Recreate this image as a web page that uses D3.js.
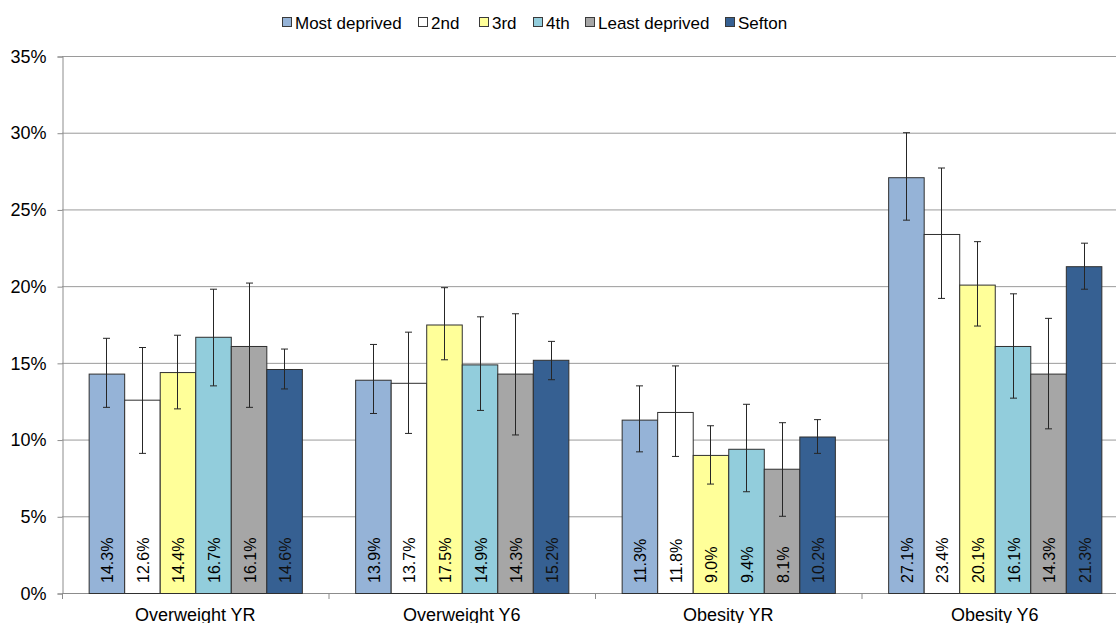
<!DOCTYPE html>
<html>
<head>
<meta charset="utf-8">
<script src="https://cdn.jsdelivr.net/npm/d3@7"></script>
<style>
  body { margin: 0; background: #fff; }
  svg { display: block; font-family: "Liberation Sans", Arial, sans-serif; }
</style>
</head>
<body>
<div id="chart"></div>
<script>
// --- Data ---
const categories = ["Overweight YR", "Overweight Y6", "Obesity YR", "Obesity Y6"];
const seriesNames = ["Most deprived", "2nd", "3rd", "4th", "Least deprived", "Sefton"];
const seriesColors = ["#95B3D7", "#FFFFFF", "#FFFF99", "#92CDDC", "#A6A6A6", "#366092"];

// values (%) per series, one entry per category
const mostDeprived = [14.3, 13.9, 11.3, 27.1];
const second = [12.6, 13.7, 11.8, 23.4];
const third = [14.4, 17.5, 9.0, 20.1];
const fourth = [16.7, 14.9, 9.4, 16.1];
const leastDeprived = [16.1, 14.3, 8.1, 14.3];
const sefton = [14.6, 15.2, 10.2, 21.3];

// confidence intervals (%) per series
const lowerCI = [
  [12.1, 11.7, 9.2, 24.3],
  [9.1, 10.4, 8.9, 19.2],
  [12.0, 15.2, 7.1, 17.4],
  [13.5, 11.9, 6.6, 12.7],
  [12.1, 10.3, 5.0, 10.7],
  [13.3, 13.9, 9.1, 19.8]
];
const upperCI = [
  [16.6, 16.2, 13.5, 30.0],
  [16.0, 17.0, 14.8, 27.7],
  [16.8, 19.9, 10.9, 22.9],
  [19.8, 18.0, 12.3, 19.5],
  [20.2, 18.2, 11.1, 17.9],
  [15.9, 16.4, 11.3, 22.8]
];

const yTicks = [0, 5, 10, 15, 20, 25, 30, 35];

const allValues = [mostDeprived, second, third, fourth, leastDeprived, sefton];

// --- Layout ---
const width = 1116;
const height = 623;
const plot = { left: 62, top: 56, bottom: 593, catWidth: 266.5 };

const svg = d3.select("#chart")
  .append("svg")
  .attr("width", width)
  .attr("height", height);

const x0 = d3.scaleBand()
  .domain(categories)
  .range([plot.left, plot.left + plot.catWidth * categories.length])
  .paddingInner(0)
  .paddingOuter(0);

// Excel style gap width 150%: 6 bars + 1.5 bar of gap per category
const barW = plot.catWidth / 7.5;
const x1 = d3.scaleBand()
  .domain(seriesNames)
  .range([0, barW * seriesNames.length]);
const groupOffset = (plot.catWidth - barW * seriesNames.length) / 2;

const y = d3.scaleLinear().domain([0, 35]).range([plot.bottom, plot.top]);

// gridlines
svg.append("g")
  .selectAll("line")
  .data(yTicks.filter((t) => t > 0))
  .join("line")
  .attr("x1", plot.left)
  .attr("x2", width)
  .attr("y1", (d) => y(d) + 0.5)
  .attr("y2", (d) => y(d) + 0.5)
  .attr("stroke", "#9A9A9A")
  .attr("stroke-width", 1);

// y axis
const yAxis = d3.axisLeft(y)
  .tickValues(yTicks)
  .tickFormat((d) => d + "%")
  .tickSize(5)
  .tickPadding(11);

const yG = svg.append("g")
  .attr("transform", `translate(${plot.left + 0.5},0.5)`)
  .call(yAxis);
yG.select(".domain").attr("stroke", "#8C8C8C");
yG.selectAll(".tick line").attr("stroke", "#8C8C8C");
yG.selectAll(".tick text")
  .attr("font-size", "18px")
  .attr("fill", "#000")
  .attr("font-family", "Liberation Sans, Arial, sans-serif");

// x axis
svg.append("line")
  .attr("x1", plot.left)
  .attr("x2", width)
  .attr("y1", plot.bottom + 0.5)
  .attr("y2", plot.bottom + 0.5)
  .attr("stroke", "#8C8C8C");

svg.append("g")
  .selectAll("line")
  .data(categories)
  .join("line")
  .attr("x1", (d) => x0(d) + 0.5)
  .attr("x2", (d) => x0(d) + 0.5)
  .attr("y1", plot.bottom)
  .attr("y2", plot.bottom + 6)
  .attr("stroke", "#8C8C8C");

svg.append("g")
  .selectAll("text")
  .data(categories)
  .join("text")
  .attr("x", (d) => x0(d) + plot.catWidth / 2)
  .attr("y", 621)
  .attr("text-anchor", "middle")
  .attr("font-size", "18px")
  .attr("fill", "#000")
  .text((d) => d);

// flatten bars
const bars = [];
seriesNames.forEach((s, si) => {
  categories.forEach((c, ci) => {
    bars.push({
      series: s,
      si: si,
      category: c,
      value: allValues[si][ci],
      lo: lowerCI[si][ci],
      hi: upperCI[si][ci]
    });
  });
});

const barX = (d) => x0(d.category) + groupOffset + x1(d.series);

// bars
svg.append("g")
  .selectAll("rect")
  .data(bars)
  .join("rect")
  .attr("x", (d) => barX(d) + 0.5)
  .attr("y", (d) => y(d.value) + 0.5)
  .attr("width", x1.bandwidth())
  .attr("height", (d) => y(0) - y(d.value))
  .attr("fill", (d) => seriesColors[d.si])
  .attr("stroke", "#2F2F2F")
  .attr("stroke-width", 1);

// error bars
const cap = 3.5;
const eb = svg.append("g").attr("stroke", "#262626").attr("stroke-width", 1);
bars.forEach((d) => {
  const cx = Math.round(barX(d) + x1.bandwidth() / 2) + 0.5;
  eb.append("line").attr("x1", cx).attr("x2", cx).attr("y1", y(d.hi)).attr("y2", y(d.lo));
  eb.append("line").attr("x1", cx - cap).attr("x2", cx + cap).attr("y1", y(d.hi)).attr("y2", y(d.hi));
  eb.append("line").attr("x1", cx - cap).attr("x2", cx + cap).attr("y1", y(d.lo)).attr("y2", y(d.lo));
});

// value labels (rotated, at bar base)
svg.append("g")
  .selectAll("text")
  .data(bars)
  .join("text")
  .attr("transform", (d) => `translate(${barX(d) + x1.bandwidth() / 2 + 7},${plot.bottom - 10}) rotate(-90)`)
  .attr("text-anchor", "start")
  .attr("font-size", "16px")
  .attr("fill", (d) => (d.si === 5 ? "#111" : "#000"))
  .text((d) => d.value.toFixed(1) + "%");

// legend
const legendX = [282, 418, 479, 533, 585, 725];
const legend = svg.append("g");
seriesNames.forEach((s, i) => {
  legend.append("rect")
    .attr("x", legendX[i] + 0.5)
    .attr("y", 17.5)
    .attr("width", 9)
    .attr("height", 9)
    .attr("fill", seriesColors[i])
    .attr("stroke", "#3A3A3A");
  legend.append("text")
    .attr("x", legendX[i] + 13)
    .attr("y", 29)
    .attr("font-size", "17px")
    .attr("fill", "#000")
    .text(s);
});
</script>
</body>
</html>
